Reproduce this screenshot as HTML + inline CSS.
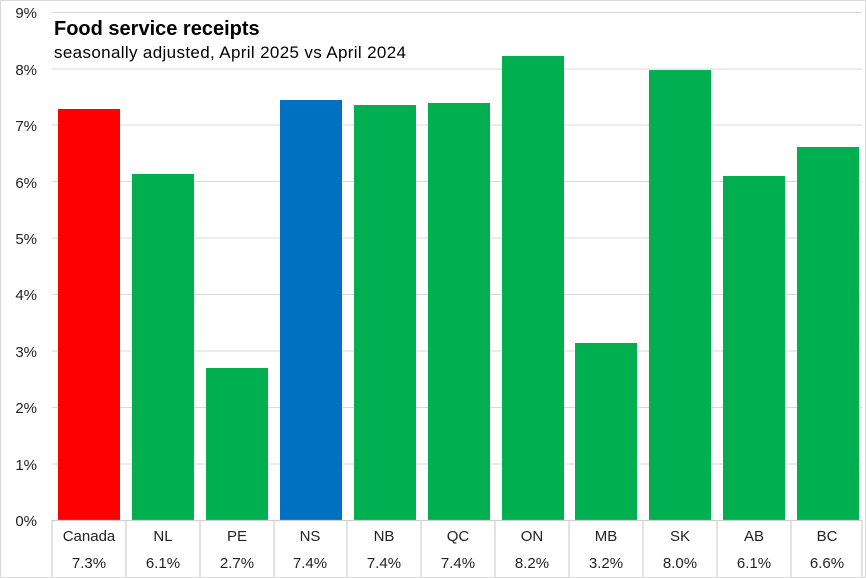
<!DOCTYPE html>
<html><head><style>
body{margin:0;background:#fff;}
svg{display:block;font-family:"Liberation Sans",sans-serif;}
</style></head><body>
<svg width="866" height="578" viewBox="0 0 866 578">
<rect x="0.5" y="0.5" width="865" height="577" fill="#fff" stroke="#d9d9d9"/>
<g stroke="#d9d9d9" stroke-width="1">
<line x1="52" x2="862" y1="12.5" y2="12.5"/>
<line x1="52" x2="862" y1="69" y2="69"/>
<line x1="52" x2="862" y1="125" y2="125"/>
<line x1="52" x2="862" y1="181.5" y2="181.5"/>
<line x1="52" x2="862" y1="238" y2="238"/>
<line x1="52" x2="862" y1="294.5" y2="294.5"/>
<line x1="52" x2="862" y1="351" y2="351"/>
<line x1="52" x2="862" y1="407.5" y2="407.5"/>
<line x1="52" x2="862" y1="464" y2="464"/>
</g>
<g font-size="15" fill="#222" text-anchor="end">
<text x="37" y="18">9%</text><text x="37" y="75">8%</text><text x="37" y="131">7%</text>
<text x="37" y="188">6%</text><text x="37" y="244">5%</text><text x="37" y="300">4%</text>
<text x="37" y="357">3%</text><text x="37" y="413">2%</text><text x="37" y="470">1%</text>
<text x="37" y="526">0%</text>
</g>
<rect x="58" y="109" width="62" height="411" fill="#ff0000"/>
<rect x="132" y="174" width="62" height="346" fill="#00b050"/>
<rect x="206" y="368" width="62" height="152" fill="#00b050"/>
<rect x="280" y="100" width="62" height="420" fill="#0070c0"/>
<rect x="354" y="105" width="62" height="415" fill="#00b050"/>
<rect x="428" y="103" width="62" height="417" fill="#00b050"/>
<rect x="502" y="56" width="62" height="464" fill="#00b050"/>
<rect x="575" y="343" width="62" height="177" fill="#00b050"/>
<rect x="649" y="70" width="62" height="450" fill="#00b050"/>
<rect x="723" y="176" width="62" height="344" fill="#00b050"/>
<rect x="797" y="147" width="62" height="373" fill="#00b050"/>
<text x="54" y="35" font-size="20" font-weight="bold" fill="#000">Food service receipts</text>
<text x="54" y="58" font-size="17" fill="#000" textLength="352">seasonally adjusted, April 2025 vs April 2024</text>
<g stroke="#d0d0d0" stroke-width="1.2">
<line x1="52" x2="862" y1="520.5" y2="520.5"/>
<line x1="52" x2="52" y1="520" y2="577"/>
<line x1="126" x2="126" y1="520" y2="577"/><line x1="200" x2="200" y1="520" y2="577"/>
<line x1="274" x2="274" y1="520" y2="577"/><line x1="347" x2="347" y1="520" y2="577"/>
<line x1="421" x2="421" y1="520" y2="577"/><line x1="495" x2="495" y1="520" y2="577"/>
<line x1="569" x2="569" y1="520" y2="577"/><line x1="643" x2="643" y1="520" y2="577"/>
<line x1="717" x2="717" y1="520" y2="577"/><line x1="791" x2="791" y1="520" y2="577"/>
<line x1="862" x2="862" y1="520" y2="577"/>
</g>
<g font-size="15" fill="#222" text-anchor="middle">
<text x="89" y="541">Canada</text><text x="163" y="541">NL</text><text x="237" y="541">PE</text>
<text x="310" y="541">NS</text><text x="384" y="541">NB</text><text x="458" y="541">QC</text>
<text x="532" y="541">ON</text><text x="606" y="541">MB</text><text x="680" y="541">SK</text>
<text x="754" y="541">AB</text><text x="827" y="541">BC</text>
<text x="89" y="568">7.3%</text><text x="163" y="568">6.1%</text><text x="237" y="568">2.7%</text>
<text x="310" y="568">7.4%</text><text x="384" y="568">7.4%</text><text x="458" y="568">7.4%</text>
<text x="532" y="568">8.2%</text><text x="606" y="568">3.2%</text><text x="680" y="568">8.0%</text>
<text x="754" y="568">6.1%</text><text x="827" y="568">6.6%</text>
</g>
</svg>
</body></html>
